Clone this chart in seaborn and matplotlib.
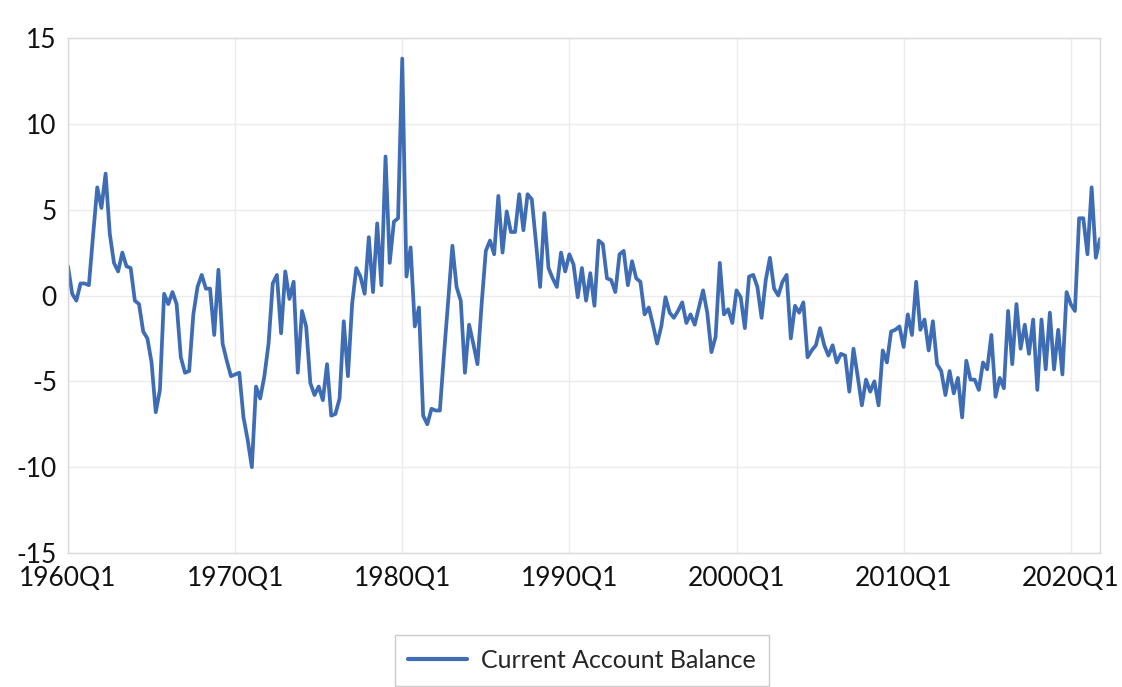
import matplotlib
matplotlib.use("Agg")
import matplotlib.pyplot as plt
import seaborn as sns
import pandas as pd
import numpy as np

# Quarterly current account balance, 1960Q1 - 2021Q4
balance_1960s = [1.7, 0.1, -0.3, 0.7, 0.7, 0.6, 3.5, 6.3, 5.1, 7.1, 3.6, 1.9, 1.4, 2.5, 1.7, 1.6,
                 -0.3, -0.5, -2.1, -2.5, -3.9, -6.8, -5.5, 0.1, -0.5, 0.2, -0.5, -3.6, -4.5, -4.4, -1.1, 0.5,
                 1.2, 0.4, 0.4, -2.3, 1.5, -2.8, -3.8, -4.7]
balance_1970s = [-4.6, -4.5, -7.1, -8.4, -10.0, -5.3, -6.0, -4.7, -2.8, 0.7, 1.2, -2.2, 1.4, -0.2, 0.8, -4.5,
                 -0.9, -1.8, -5.1, -5.8, -5.3, -6.1, -4.0, -7.0, -6.9, -6.0, -1.5, -4.7, -0.5, 1.6, 1.1, 0.1,
                 3.4, 0.2, 4.2, 0.6, 8.1, 1.9, 4.3, 4.5]
balance_1980s = [13.8, 1.1, 2.8, -1.8, -0.7, -7.0, -7.5, -6.6, -6.7, -6.7, -3.4, -0.3, 2.9, 0.5, -0.3, -4.5,
                 -1.7, -2.8, -4.0, -0.5, 2.6, 3.2, 2.4, 5.8, 2.5, 4.9, 3.7, 3.7, 5.9, 3.8, 5.9, 5.6,
                 3.1, 0.5, 4.8, 1.6, 1.0, 0.5, 2.5, 1.4]
balance_1990s = [2.4, 1.8, -0.1, 1.6, -0.3, 1.3, -0.6, 3.2, 3.0, 1.0, 0.9, 0.2, 2.4, 2.6, 0.6, 2.0,
                 1.0, 0.8, -1.1, -0.7, -1.7, -2.8, -1.8, -0.1, -1.0, -1.3, -0.9, -0.4, -1.6, -1.1, -1.7, -0.7,
                 0.3, -1.0, -3.3, -2.4, 1.9, -1.1, -0.8, -1.6]
balance_2000s = [0.3, -0.1, -1.9, 1.1, 1.2, 0.5, -1.3, 0.9, 2.2, 0.4, 0.0, 0.8, 1.2, -2.5, -0.6, -1.0,
                 -0.4, -3.6, -3.2, -2.9, -1.9, -2.9, -3.5, -2.9, -3.9, -3.4, -3.5, -5.6, -3.1, -4.7, -6.4, -4.9,
                 -5.6, -5.0, -6.4, -3.2, -3.9, -2.1, -2.0, -1.8]
balance_2010s = [-3.0, -1.1, -2.3, 0.8, -2.0, -1.4, -3.2, -1.5, -4.0, -4.4, -5.8, -4.4, -5.7, -4.8, -7.1, -3.8,
                 -4.9, -4.9, -5.5, -3.9, -4.3, -2.3, -5.9, -4.8, -5.4, -0.9, -4.0, -0.5, -3.1, -1.7, -3.4, -1.4,
                 -5.5, -1.4, -4.3, -1.0, -4.3, -2.0, -4.6, 0.2]
balance_2020s = [-0.5, -0.9, 4.5, 4.5, 2.4, 6.3, 2.2, 3.3]

balance = balance_1960s + balance_1970s + balance_1980s + balance_1990s + balance_2000s + balance_2010s + balance_2020s
quarters = [str(p) for p in pd.period_range("1960Q1", periods=len(balance), freq="Q")]

x_tick_labels = ["1960Q1", "1970Q1", "1980Q1", "1990Q1", "2000Q1", "2010Q1", "2020Q1"]
y_ticks = [-15, -10, -5, 0, 5, 10, 15]
series_name = "Current Account Balance"

df = pd.DataFrame({"quarter": quarters, "idx": range(len(balance)), "value": balance})

sns.set_theme(style="white")
plt.rcParams["font.family"] = ["Lato", "DejaVu Sans"]
plt.rcParams["axes.unicode_minus"] = False

fig = plt.figure(figsize=(11.22, 6.87), dpi=100)
ax = fig.add_axes([68 / 1122, 1 - 553 / 687, (1100 - 68) / 1122, (553 - 38) / 687])

line_color = "#3F6DB5"
sns.lineplot(data=df, x="idx", y="value", ax=ax, color=line_color, linewidth=2.7,
             label=series_name, legend=False)

tick_pos = [quarters.index(t) for t in x_tick_labels]
ax.set_xticks(tick_pos)
ax.set_xticklabels(x_tick_labels)
ax.set_xlim(0, len(balance) - 1)
ax.set_ylim(-15, 15)
ax.set_yticks(y_ticks)
ax.set_yticklabels([str(v) for v in y_ticks])
ax.set_xlabel("")
ax.set_ylabel("")

ax.grid(True, color="#EBEBEB", linewidth=1.0)
ax.set_axisbelow(True)
for s in ax.spines.values():
    s.set_color("#D9D9D9")
    s.set_linewidth(1.0)
ax.tick_params(axis="both", length=0, labelsize=19, colors="#111111")
ax.tick_params(axis="x", pad=9)
ax.tick_params(axis="y", pad=8)

handles, labels = ax.get_legend_handles_labels()
leg = fig.legend(handles, labels, loc="upper center", bbox_to_anchor=(582 / 1122, 1 - 635 / 687),
                 fontsize=18, frameon=True, fancybox=False, edgecolor="#BFBFBF",
                 handlelength=2.35, handletextpad=0.55, borderpad=0.55, borderaxespad=0)
leg.get_frame().set_linewidth(1.0)
for h in leg.get_lines():
    h.set_linewidth(3)

fig.savefig("out.png", dpi=100)
